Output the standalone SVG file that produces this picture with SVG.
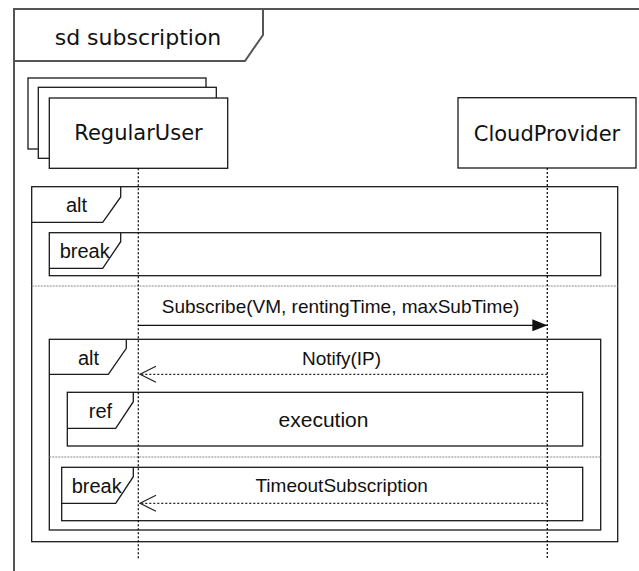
<svg xmlns="http://www.w3.org/2000/svg" width="639" height="571" viewBox="0 0 639 571">
<style>
.frame{fill:none;stroke:#555;stroke-width:2}
.frag{fill:none;stroke:#1a1a1a;stroke-width:1.3}
.head{fill:#fff;stroke:#1a1a1a;stroke-width:1.3}
.life{stroke:#111;stroke-width:1.3;stroke-dasharray:2,2;fill:none}
.sep{stroke:#888;stroke-width:1;stroke-dasharray:2,1;fill:none}
.msg{stroke:#111;stroke-width:1.3;fill:none}
.reply{stroke:#222;stroke-width:1.2;stroke-dasharray:2,2;fill:none}
.t1{font-family:"DejaVu Sans",Verdana,sans-serif;font-size:21px;fill:#111;text-anchor:middle}
.t2{font-family:"Liberation Sans",Arial,sans-serif;font-size:20px;fill:#111;text-anchor:middle}
.t3{font-family:"Liberation Sans",Arial,sans-serif;font-size:19px;fill:#111;text-anchor:middle}
</style>
<defs>
<marker id="filled" viewBox="0 0 15 12" refX="15" refY="6" markerWidth="15" markerHeight="12" markerUnits="userSpaceOnUse" orient="auto">
<path d="M0,0 L15,6 L0,12 z" fill="#111"/>
</marker>
<marker id="open" viewBox="-1 -1 18 18" refX="16" refY="8" markerWidth="18" markerHeight="18" markerUnits="userSpaceOnUse" orient="auto" overflow="visible">
<path d="M0,0 L16,8 L0,16" fill="none" stroke="#222" stroke-width="1.2"/>
</marker>
</defs>
<rect width="639" height="571" fill="#fff"/>
<g id="sd-frame">
<rect class="frame" x="14" y="9" width="720" height="620"/>
<path class="frame" d="M14,61 H245 L263,35 V9"/>
<text class="t1" x="138" y="45" style="font-size:22px">sd subscription</text>
</g>
<g id="alt-outer">
<rect class="frag" x="31.7" y="186.7" width="586" height="355"/>
<path class="frag" d="M31.7,222.3 H102.7 L120.7,197 V186.7"/>
<text class="t2" x="76.5" y="212">alt</text>
<line class="sep" x1="31.7" y1="286" x2="617.7" y2="286"/>
</g>
<g id="break-1">
<rect class="frag" x="49.3" y="232.7" width="551.4" height="43"/>
<path class="frag" d="M49.3,268.3 H102.7 L120.7,241.7 V232.7"/>
<text class="t2" x="84.7" y="257.5">break</text>
</g>
<g id="alt-inner">
<rect class="frag" x="49.3" y="339.3" width="551.4" height="190.7"/>
<path class="frag" d="M49.3,374.3 H108.3 L126.3,348.3 V339.3"/>
<text class="t2" x="88.5" y="364.5">alt</text>
<line class="sep" x1="49.3" y1="457" x2="600.7" y2="457"/>
</g>
<g id="ref-execution">
<rect class="frag" x="67.3" y="392.3" width="515.4" height="53.7"/>
<path class="frag" d="M67.3,428.3 H115.7 L133.3,401.7 V392.3"/>
<text class="t2" x="100.5" y="418">ref</text>
<text class="t2" x="323.5" y="427" style="font-size:21px">execution</text>
</g>
<g id="break-2">
<rect class="frag" x="61.7" y="467.3" width="521" height="53.4"/>
<path class="frag" d="M61.7,503.3 H115.7 L133.3,476.7 V467.3"/>
<text class="t2" x="96.7" y="492.5">break</text>
</g>
<g id="RegularUser">
<rect class="head" x="28" y="78" width="178" height="71"/>
<rect class="head" x="38.3" y="87.3" width="178" height="71"/>
<rect class="head" x="49.3" y="98" width="178.4" height="70.3"/>
<text class="t1" x="138.5" y="140">RegularUser</text>
<line class="life" x1="138.3" y1="168.3" x2="138.3" y2="559"/>
</g>
<g id="CloudProvider">
<rect class="head" x="458" y="97.7" width="178" height="70.3"/>
<text class="t1" x="547" y="141">CloudProvider</text>
<line class="life" x1="547.3" y1="168" x2="547.3" y2="559"/>
</g>
<g id="connectors">
<line class="msg" x1="138.3" y1="325.3" x2="547.3" y2="325.3" marker-end="url(#filled)"/>
<text class="t3" x="340.5" y="313">Subscribe(VM, rentingTime, maxSubTime)</text>
<line class="reply" x1="547.3" y1="374.3" x2="140" y2="374.3" marker-end="url(#open)"/>
<text class="t3" x="341.5" y="364.5">Notify(IP)</text>
<line class="reply" x1="547.3" y1="503.3" x2="140" y2="503.3" marker-end="url(#open)"/>
<text class="t3" x="341.7" y="492">TimeoutSubscription</text>
</g>
</svg>
